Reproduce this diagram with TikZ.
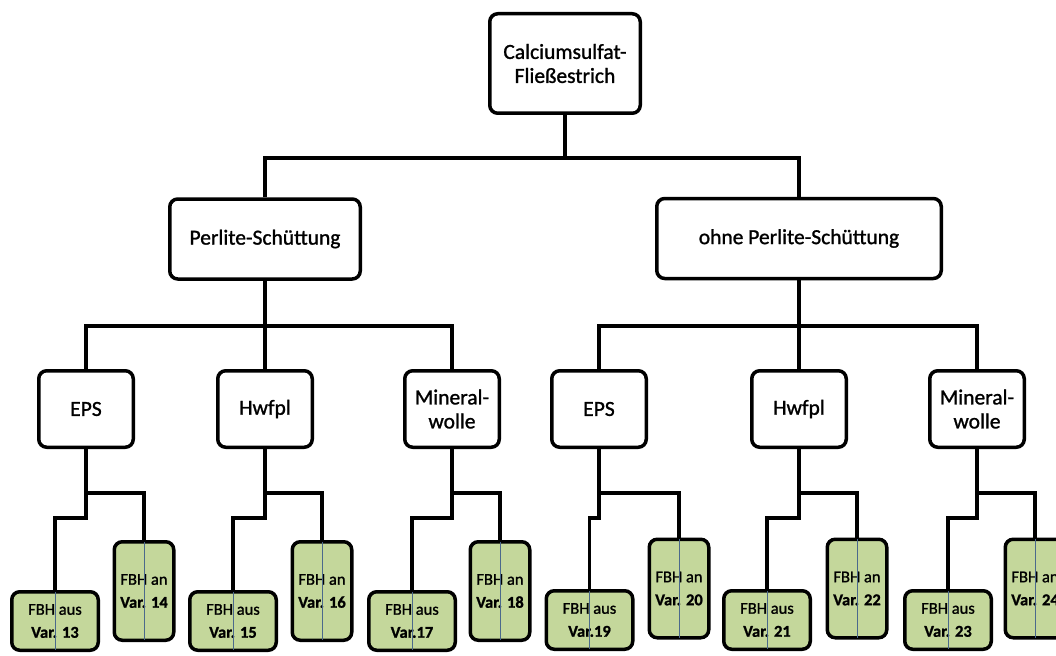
\documentclass[tikz,border=0pt]{standalone}
\usepackage{fontspec}
\setmainfont{Carlito}
\newfontfamily\labelfont[FakeBold=1.2]{Carlito}
\definecolor{vgreen}{HTML}{C4D79B}
\definecolor{divblue}{RGB}{75,105,140}
\begin{document}
\begin{tikzpicture}[x=1pt,y=-1pt,
  box/.style={draw=black, line width=3.5pt, rounded corners=8pt, fill=white, inner sep=0pt,
    align=center, text=black, font=\labelfont\fontsize{21.5}{24}\selectfont},
  lvone/.style={box, minimum height=80pt},
  lvtwo/.style={box, minimum width=94.5pt, minimum height=76.5pt},
  ausbox/.style={box, fill=vgreen, minimum width=86.5pt, minimum height=58.5pt, font=\labelfont\fontsize{16.5}{23}\selectfont},
  anbox/.style={box, fill=vgreen, minimum width=59.5pt, minimum height=98.5pt, font=\labelfont\fontsize{16.5}{23}\selectfont},
  conn/.style={line width=3.5pt, draw=black},
  divider/.style={line width=0.9pt, draw=divblue, shorten >=1.8pt, shorten <=1.8pt}]
\useasboundingbox (0,0) rectangle (1056,655);
\clip (0,0) rectangle (1056,655);
% junction levels
\coordinate (ya) at (0,158);
\coordinate (yb) at (0,326);
\coordinate (yc) at (0,493);
\coordinate (yd) at (0,518);
% nodes
\node[box, minimum width=150.5pt, minimum height=99.5pt] (root) at (565,63.5) {Calciumsulfat-\\Fließestrich};
\node[lvone, minimum width=190.5pt] (perl) at (265,239) {Perlite-Schüttung};
\node[lvone, minimum width=284.5pt] (ohne) at (799,238.5) {ohne Perlite-Schüttung};
\node[lvtwo] (epsA) at (86,409) {EPS};
\node[lvtwo] (hwA) at (265,409) {Hwfpl};
\node[lvtwo] (mwA) at (452,409) {Mineral-\\wolle};
\node[lvtwo] (epsB) at (599,409) {EPS};
\node[lvtwo] (hwB) at (799,409) {Hwfpl};
\node[lvtwo] (mwB) at (977,409) {Mineral-\\wolle};
\node[ausbox] (v13) at (55,621) {FBH aus\\\textbf{Var. 13}};
\node[anbox] (v14) at (144,591) {FBH an\\\textbf{Var. 14}};
\node[ausbox] (v15) at (233,621) {FBH aus\\\textbf{Var. 15}};
\node[anbox] (v16) at (322,591) {FBH an\\\textbf{Var. 16}};
\node[ausbox] (v17) at (412,621) {FBH aus\\\textbf{Var.17}};
\node[anbox] (v18) at (500,591) {FBH an\\\textbf{Var. 18}};
\node[ausbox] (v19) at (589.5,620) {FBH aus\\\textbf{Var.19}};
\node[anbox] (v20) at (679,588.5) {FBH an\\\textbf{Var. 20}};
\node[ausbox] (v21) at (767,620) {FBH aus\\\textbf{Var. 21}};
\node[anbox] (v22) at (857,588.5) {FBH an\\\textbf{Var. 22}};
\node[ausbox] (v23) at (948,620) {FBH aus\\\textbf{Var. 23}};
\node[anbox] (v24) at (1035,588.5) {FBH an\\\textbf{Var. 24}};
% level 0 -> 1
\draw[conn] (root.south) -- (root.south |- ya);
\draw[conn] (perl.north) |- (ya -| ohne.north) -- (ohne.north);
% level 1 -> 2
\draw[conn] (perl.south) -- (perl.south |- yb);
\draw[conn] (epsA.north) |- (yb -| mwA.north) -- (mwA.north);
\draw[conn] (hwA.north) -- (hwA.north |- yb);
\draw[conn] (ohne.south) -- (ohne.south |- yb);
\draw[conn] (epsB.north) |- (yb -| mwB.north) -- (mwB.north);
\draw[conn] (hwB.north) -- (hwB.north |- yb);
% level 2 -> 3
\foreach \p/\l/\r in {epsA/v13/v14, hwA/v15/v16, mwA/v17/v18, epsB/v19/v20, hwB/v21/v22, mwB/v23/v24}{
  \draw[conn] (\p.south) |- (yc -| \r.north) -- (\r.north);
  \draw[conn] (\p.south |- yc) -- (\p.south |- yd) -| (\l.north);
}
% dividers
\foreach \v in {v13,v14,v15,v16,v17,v18,v19,v20,v21,v22,v23,v24}{
  \draw[divider] (\v.north) -- (\v.south);
}
\end{tikzpicture}
\end{document}
